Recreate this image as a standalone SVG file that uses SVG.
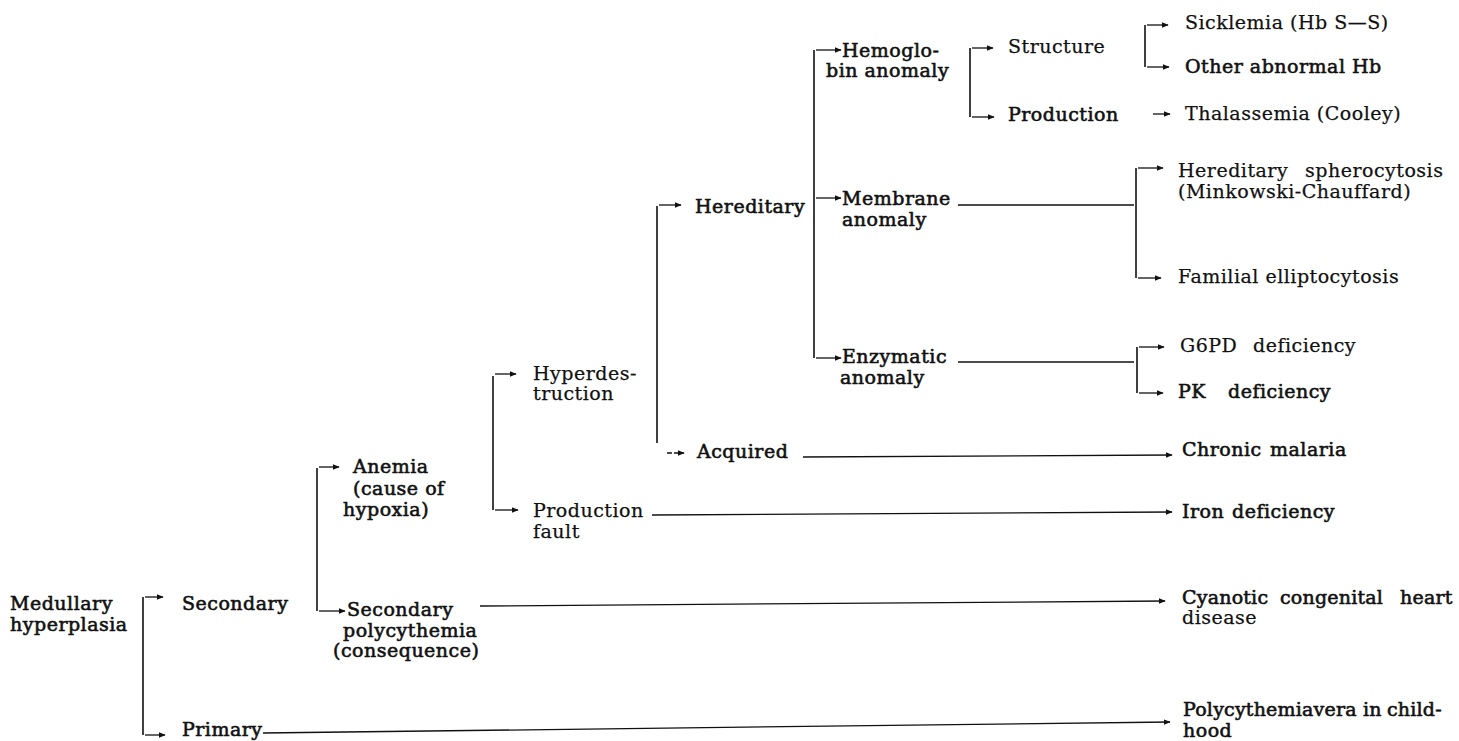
<svg xmlns="http://www.w3.org/2000/svg" width="1459" height="741" viewBox="0 0 1459 741">
<style>
text{font-family:"DejaVu Serif","Liberation Serif",serif;font-size:19px;letter-spacing:0.5px;fill:#111;stroke:#111;stroke-width:0.25}
.b{stroke-width:0.6}
.c{fill:none;stroke:#111;stroke-width:1.3}
.k{fill:none;stroke:#111;stroke-width:1.6}
.a{fill:none;stroke:#111;stroke-width:1.3;marker-end:url(#ah)}
</style>
<defs>
<marker id="ah" viewBox="0 0 10 10" refX="9" refY="5" markerWidth="7" markerHeight="7" markerUnits="userSpaceOnUse" orient="auto"><path d="M0,1 L10,5 L0,9 z" fill="#111"/></marker>
</defs>
<rect width="1459" height="741" fill="#fff"/>
<g id="connectors">
<path class="k" d="M143,597 V735"/>
<path class="a" d="M145,597 H163"/>
<path class="a" d="M145,735 H165"/>
<path class="a" d="M263,733 L1170,722"/>
<path class="k" d="M317,468 V611"/>
<path class="a" d="M319,467 H339"/>
<path class="a" d="M319,611 H345"/>
<path class="a" d="M480,606 L1165,601"/>
<path class="k" d="M493,376 V510"/>
<path class="a" d="M495,374 H516"/>
<path class="a" d="M495,510 H518"/>
<path class="a" d="M652,515 L1172,512"/>
<path class="k" d="M657,206 V443"/>
<path class="a" d="M659,205 H681"/>
<path class="a" d="M667,453 H684" stroke-dasharray="5 2"/>
<path class="a" d="M803,457 L1172,455"/>
<path class="k" d="M814,50 V358"/>
<path class="a" d="M816,50 H841"/>
<path class="a" d="M816,198 H841"/>
<path class="a" d="M816,358 H841"/>
<path class="c" d="M958,205 H1134"/>
<path class="c" d="M958,362 H1134"/>
<path class="k" d="M970,48 V117"/>
<path class="a" d="M972,48 H993"/>
<path class="a" d="M972,117 H994"/>
<path class="a" d="M1153,114 H1170"/>
<path class="k" d="M1145,25 V67"/>
<path class="a" d="M1147,25 H1168"/>
<path class="a" d="M1147,67 H1169"/>
<path class="k" d="M1136,168 V278"/>
<path class="a" d="M1138,168 H1163"/>
<path class="a" d="M1138,278 H1161"/>
<path class="k" d="M1137,347 V393"/>
<path class="a" d="M1139,347 H1164"/>
<path class="a" d="M1139,393 H1163"/>
</g>
<g id="n-medullary"><text class="b" x="10" y="610">Medullary</text><text class="b" x="10" y="631">hyperplasia</text></g>
<g id="n-secondary"><text class="b" x="182" y="610">Secondary</text></g>
<g id="n-primary"><text class="b" x="182" y="736">Primary</text></g>
<g id="n-anemia"><text class="b" x="353" y="473">Anemia</text><text class="b" x="353" y="495">(cause of</text><text class="b" x="343" y="516">hypoxia)</text></g>
<g id="n-secpoly"><text class="b" x="347" y="616">Secondary</text><text class="b" x="343" y="637">polycythemia</text><text class="b" x="333" y="657">(consequence)</text></g>
<g id="n-hyperdes"><text x="533" y="380">Hyperdes-</text><text x="533" y="400">truction</text></g>
<g id="n-prodfault"><text x="533" y="517">Production</text><text x="533" y="538">fault</text></g>
<g id="n-hereditary"><text class="b" x="695" y="213">Hereditary</text></g>
<g id="n-acquired"><text class="b" x="697" y="458">Acquired</text></g>
<g id="n-hemoglobin"><text class="b" x="842" y="57">Hemoglo-</text><text class="b" x="826" y="77">bin anomaly</text></g>
<g id="n-membrane"><text class="b" x="842" y="205">Membrane</text><text class="b" x="842" y="226">anomaly</text></g>
<g id="n-enzymatic"><text class="b" x="842" y="363">Enzymatic</text><text class="b" x="840" y="384">anomaly</text></g>
<g id="n-structure"><text x="1008" y="53">Structure</text></g>
<g id="n-production"><text class="b" x="1008" y="121">Production</text></g>
<g id="n-sicklemia"><text x="1185" y="29">Sicklemia (Hb S—S)</text></g>
<g id="n-otherhb"><text class="b" x="1185" y="73">Other abnormal Hb</text></g>
<g id="n-thalassemia"><text x="1185" y="120">Thalassemia (Cooley)</text></g>
<g id="n-spherocytosis"><text x="1178" y="177">Hereditary<tspan x="1305">spherocytosis</tspan></text><text x="1178" y="198">(Minkowski-Chauffard)</text></g>
<g id="n-elliptocytosis"><text x="1178" y="283">Familial elliptocytosis</text></g>
<g id="n-g6pd"><text x="1180" y="352">G6PD<tspan x="1253">deficiency</tspan></text></g>
<g id="n-pk"><text class="b" x="1178" y="398">PK<tspan x="1228">deficiency</tspan></text></g>
<g id="n-malaria"><text class="b" x="1182" y="456">Chronic<tspan x="1270">malaria</tspan></text></g>
<g id="n-iron"><text class="b" x="1182" y="518">Iron<tspan x="1232">deficiency</tspan></text></g>
<g id="n-cyanotic"><text class="b" x="1182" y="604" style="letter-spacing:0.2px">Cyanotic<tspan x="1280">congenital</tspan><tspan x="1400">heart</tspan></text><text x="1182" y="624">disease</text></g>
<g id="n-vera"><text class="b" x="1183" y="716" style="letter-spacing:0.2px">Polycythemiavera<tspan x="1363">in</tspan><tspan x="1387">child-</tspan></text><text class="b" x="1183" y="737">hood</text></g>
</svg>
